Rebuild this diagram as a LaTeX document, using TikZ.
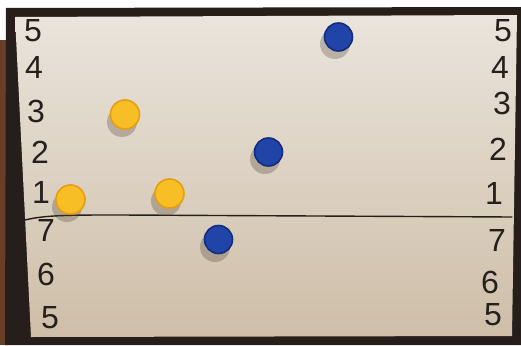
\documentclass[tikz,border=0pt]{standalone}
\usepackage{fontspec}
\setmainfont{Liberation Sans}
\definecolor{ink}{RGB}{38,32,28}
\definecolor{framec}{RGB}{38,30,27}
\definecolor{wood}{RGB}{105,62,38}
\definecolor{boardtop}{RGB}{234,228,220}
\definecolor{boardbot}{RGB}{206,190,168}
\definecolor{yfill}{RGB}{247,190,38}
\definecolor{ydark}{RGB}{230,158,14}
\definecolor{bfill}{RGB}{32,68,168}
\definecolor{bdark}{RGB}{20,44,125}
\definecolor{shadowc}{RGB}{70,55,45}
\begin{document}
\begin{tikzpicture}[x=1pt,y=-1pt,
  digit/.style={font=\fontsize{32}{32}\selectfont, text=ink, inner sep=0pt},
  ymag/.style={circle, minimum size=29pt, inner sep=0pt, draw=ydark, line width=1.6pt, fill=yfill},
  bmag/.style={circle, minimum size=28pt, inner sep=0pt, draw=bdark, line width=1.6pt, fill=bfill},
  magshadow/.style={circle, minimum size=30pt, inner sep=0pt, fill=shadowc, fill opacity=0.28}
]
\useasboundingbox (0,0) rectangle (521,345);
\fill[white] (0,0) rectangle (521,345);
\fill[wood] (0,40) rectangle (7,345);
\fill[framec] (6,8) -- (521,7) -- (521,345) -- (5,345) -- cycle;
\shade[top color=boardtop, bottom color=boardbot] (15,17) -- (517,15) -- (512,336) -- (31,337) -- cycle;
% dividing line
\draw[ink, line width=1.4pt, line cap=round] (25,220) .. controls (45,215) and (70,215) .. (120,215) -- (512,217);
% left digits
\node[digit] (l5a) at (33,31) {5};
\node[digit] (l4) at (34,67) {4};
\node[digit] (l3) at (36,111) {3};
\node[digit] (l2) at (40,152) {2};
\node[digit] (l1) at (41,192) {1};
\node[digit] (l7) at (46,230) {7};
\node[digit] (l6) at (46,274) {6};
\node[digit] (l5b) at (50,318) {5};
% right digits
\node[digit] (r5a) at (503,31) {5};
\node[digit] (r4) at (500,67) {4};
\node[digit] (r3) at (502,103) {3};
\node[digit] (r2) at (498,149) {2};
\node[digit] (r1) at (494,193) {1};
\node[digit] (r7) at (497,240) {7};
\node[digit] (r6) at (490,282) {6};
\node[digit] (r5b) at (493,315) {5};
% shadows
\node[magshadow] (sy1) at (67,207) {};
\node[magshadow] (sy2) at (122,122) {};
\node[magshadow] (sy3) at (166,201) {};
\node[magshadow] (sb1) at (335,44) {};
\node[magshadow] (sb2) at (265,159) {};
\node[magshadow] (sb3) at (215,247) {};
% magnets
\node[ymag] (y1) at (70.5,199.5) {};
\node[ymag] (y2) at (125,114.5) {};
\node[ymag] (y3) at (169.5,193.5) {};
\node[bmag] (b1) at (338.5,37) {};
\node[bmag] (b2) at (268.5,152) {};
\node[bmag] (b3) at (218.5,239.5) {};
\end{tikzpicture}
\end{document}
